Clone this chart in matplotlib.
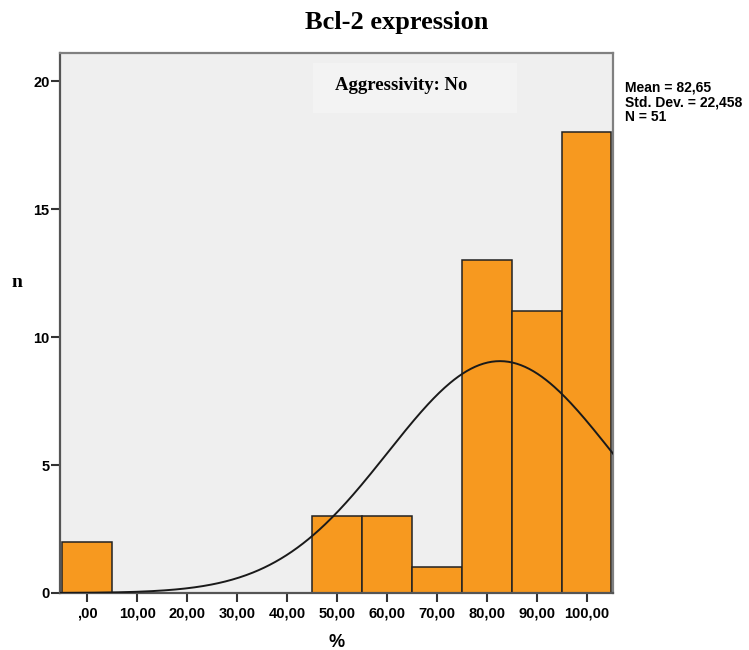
#!/usr/bin/env python
"""Histogram of Bcl-2 expression with fitted normal curve (SPSS style)."""

import matplotlib
matplotlib.use("Agg")
import matplotlib.pyplot as plt
from matplotlib.patches import Rectangle
import numpy as np

bin_centers = [0, 10, 20, 30, 40, 50, 60, 70, 80, 90, 100]
counts = [2, 0, 0, 0, 0, 3, 3, 1, 13, 11, 18]
tick_labels = [",00", "10,00", "20,00", "30,00", "40,00", "50,00",
               "60,00", "70,00", "80,00", "90,00", "100,00"]
mean, std_dev, n_obs = 82.65, 22.458, 51
bin_width = 10

BAR = "#F7991F"
BG = "#EFEFEF"

fig = plt.figure(figsize=(7.49, 6.5), dpi=100)
ax = fig.add_axes([0.0801, 0.0877, 0.7383, 0.8308])
ax.set_facecolor(BG)

ax.bar(bin_centers, counts, width=bin_width, color=BAR, edgecolor="#222222",
       linewidth=1.1, zorder=2)

x = np.linspace(-5.5, 105.5, 400)
pdf = np.exp(-0.5 * ((x - mean) / std_dev) ** 2) / (std_dev * np.sqrt(2 * np.pi))
ax.plot(x, pdf * n_obs * bin_width, color="#1a1a1a", linewidth=1.4, zorder=3)

ax.set_xlim(-5.5, 105.3)
ax.set_ylim(0, 21.1)
ax.set_xticks(bin_centers)
ax.set_xticklabels(tick_labels)
ax.set_yticks([0, 5, 10, 15, 20])

sans = ["Liberation Sans", "DejaVu Sans"]
serif = ["Liberation Serif", "DejaVu Serif"]
for lab in ax.get_xticklabels() + ax.get_yticklabels():
    lab.set_family(sans)
    lab.set_fontweight("bold")
    lab.set_fontsize(10.5)
ax.tick_params(axis="both", direction="out", length=6.5, width=1.5, color="#333333")
ax.tick_params(axis="x", pad=3)
ax.tick_params(axis="y", pad=1)

for side in ("left", "bottom"):
    ax.spines[side].set_color("#555555")
    ax.spines[side].set_linewidth(1.6)
for side in ("top", "right"):
    ax.spines[side].set_color("#808080")
    ax.spines[side].set_linewidth(1.6)

# faint panel label box
ax.add_patch(Rectangle((0.4575, 0.889), 0.3685, 0.092, transform=ax.transAxes,
                       facecolor="#F3F3F3", edgecolor="none", zorder=1))
ax.text(0.617, 0.94, "Aggressivity: No", transform=ax.transAxes, ha="center",
        va="center", family=serif, fontweight="bold", fontsize=13.5, zorder=4)

fig.text(0.530, 0.966, "Bcl-2 expression", ha="center", va="center",
         family=serif, fontweight="bold", fontsize=19)
fig.text(0.022, 0.565, "n", ha="center", va="center", family=serif,
         fontweight="bold", fontsize=14)
fig.text(0.450, 0.012, "%", ha="center", va="center", family=sans,
         fontweight="bold", fontsize=13)
fig.text(0.834, 0.843, "Mean = 82,65\nStd. Dev. = 22,458\nN = 51",
         ha="left", va="center", family=sans, fontweight="bold", fontsize=10,
         linespacing=1.05)

fig.savefig("out.png", dpi=100)
